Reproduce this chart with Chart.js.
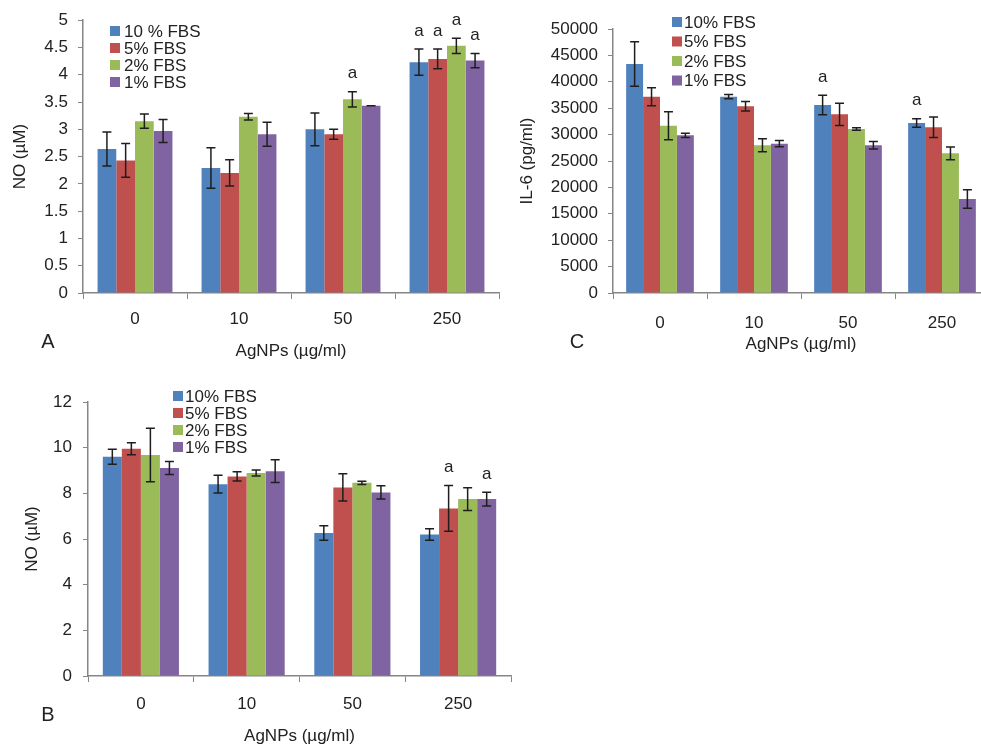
<!DOCTYPE html>
<html>
<head>
<meta charset="utf-8">
<title>AgNPs NO and IL-6</title>
<script src="https://cdn.jsdelivr.net/npm/chart.js@4.4.1/dist/chart.umd.min.js"></script>
<style>
  html, body { margin: 0; padding: 0; background: #fff; overflow: hidden; }
  body { position: relative; width: 981px; height: 744px; }
  canvas { position: absolute; }
</style>
</head>
<body>
<canvas id="chartA" width="510" height="370" style="left:0;top:0"></canvas>
<canvas id="chartC" width="510" height="370" style="left:490px;top:0"></canvas>
<canvas id="chartB" width="520" height="384" style="left:0;top:370px"></canvas>
<script>
// ---- data ----
var categories = ['0', '10', '50', '250'];
var labelsA = ['10 % FBS', '5% FBS', '2% FBS', '1% FBS'];
var labelsBC = ['10% FBS', '5% FBS', '2% FBS', '1% FBS'];
var colors = ['#4f81bd', '#c0504d', '#9bbb59', '#8064a2'];

// panel A: NO (uM)
var noA10 = [2.64, 2.29, 3.00, 4.23], noA10Err = [0.31, 0.37, 0.30, 0.24];
var noA5 = [2.43, 2.20, 2.91, 4.29], noA5Err = [0.31, 0.24, 0.09, 0.18];
var noA2 = [3.15, 3.23, 3.55, 4.53], noA2Err = [0.13, 0.06, 0.14, 0.14];
var noA1 = [2.97, 2.91, 3.43, 4.26], noA1Err = [0.21, 0.22, 0, 0.13];
var sigA10 = ['', '', '', 'a'], sigA5 = ['', '', '', 'a'], sigA2 = ['', '', 'a', 'a'], sigA1 = ['', '', '', 'a'];

// panel C: IL-6 (pg/ml)
var il10 = [43370, 37180, 35600, 32200], il10Err = [4230, 400, 1830, 800];
var il5 = [37180, 35350, 33840, 31380], il5Err = [1700, 900, 2100, 1950];
var il2 = [31690, 27970, 31060, 26450], il2Err = [2650, 1230, 250, 1200];
var il1 = [29860, 28280, 27970, 17800], il1Err = [400, 600, 700, 1750];
var sigC10 = ['', '', 'a', 'a'], sigC5 = ['', '', '', ''], sigC2 = ['', '', '', ''], sigC1 = ['', '', '', ''];

// panel B: NO (uM)
var noB10 = [9.60, 8.40, 6.26, 6.20], noB10Err = [0.33, 0.39, 0.32, 0.25];
var noB5 = [9.95, 8.74, 8.26, 7.34], noB5Err = [0.26, 0.20, 0.60, 1.00];
var noB2 = [9.68, 8.89, 8.46, 7.75], noB2Err = [1.17, 0.13, 0.07, 0.50];
var noB1 = [9.11, 8.97, 8.04, 7.75], noB1Err = [0.28, 0.50, 0.29, 0.30];
var sigB10 = ['', '', '', ''], sigB5 = ['', '', '', 'a'], sigB2 = ['', '', '', ''], sigB1 = ['', '', '', 'a'];

Chart.defaults.font.family = "'Liberation Sans', Arial, sans-serif";
Chart.defaults.color = '#222';

var textColor = '#222';
var axisColor = '#868686';

function makeSets(labels, vals, errs, sigs) {
    return labels.map(function(l, i) {
        return {
            label: l,
            data: vals[i],
            err: errs[i],
            sig: sigs[i],
            backgroundColor: colors[i],
            borderWidth: 0,
            barPercentage: 1,
            categoryPercentage: 0.72
        };
    });
}

// error bars, "a" marks, legend and panel letter
var overlay = {
    id: 'overlay',
    afterDatasetsDraw: function(chart, args, opts) {
        var ctx = chart.ctx;
        var y = chart.scales.y;
        ctx.save();
        ctx.strokeStyle = '#1e1e1e';
        ctx.lineWidth = 1.5;
        ctx.fillStyle = textColor;
        ctx.font = '17px ' + Chart.defaults.font.family;
        ctx.textAlign = 'center';
        ctx.textBaseline = 'middle';
        chart.data.datasets.forEach(function(ds, i) {
            var meta = chart.getDatasetMeta(i);
            meta.data.forEach(function(bar, j) {
                var v = ds.data[j], e = ds.err[j];
                var top = y.getPixelForValue(v + e), bot = y.getPixelForValue(v - e);
                var x = bar.x;
                ctx.beginPath();
                ctx.moveTo(x, top); ctx.lineTo(x, bot);
                ctx.moveTo(x - 4.5, top); ctx.lineTo(x + 4.5, top);
                ctx.moveTo(x - 4.5, bot); ctx.lineTo(x + 4.5, bot);
                ctx.stroke();
                if (ds.sig[j]) {
                    ctx.fillText(ds.sig[j], x, top - 18);
                }
            });
        });

        // legend
        ctx.textAlign = 'left';
        chart.data.datasets.forEach(function(ds, i) {
            var cy = opts.legY + i * opts.legStep;
            ctx.fillStyle = ds.backgroundColor;
            ctx.fillRect(opts.legX, cy - 5, 10, 10);
            ctx.fillStyle = textColor;
            ctx.fillText(ds.label, opts.legX + opts.legGap, cy + 1);
        });

        // panel letter
        ctx.font = '20px ' + Chart.defaults.font.family;
        ctx.textAlign = 'center';
        ctx.fillText(opts.letter, opts.letX, opts.letY);
        ctx.restore();
    }
};

function makeChart(id, sets, p) {
    return new Chart(document.getElementById(id), {
        type: 'bar',
        data: { labels: categories, datasets: sets },
        options: {
            responsive: false,
            animation: false,
            layout: { padding: p.pad },
            plugins: {
                legend: { display: false },
                tooltip: { enabled: false },
                overlay: p.overlay
            },
            scales: {
                x: {
                    grid: { drawOnChartArea: false, tickLength: 6, color: axisColor, offset: true },
                    border: { color: axisColor, width: 1.5 },
                    ticks: { font: { size: 17 }, color: textColor, padding: p.xPad },
                    title: { display: true, text: 'AgNPs (\u00b5g/ml)', font: { size: 17 }, color: textColor, padding: 0 },
                    afterFit: function(scale) { scale.height = p.xH; }
                },
                y: {
                    min: 0,
                    max: p.max,
                    grid: { drawOnChartArea: false, tickLength: 5, color: axisColor },
                    border: { color: axisColor, width: 1.5 },
                    ticks: {
                        stepSize: p.step,
                        font: { size: 17 },
                        color: textColor,
                        padding: p.yPad,
                        callback: function(v) { return String(v); }
                    },
                    title: { display: true, text: p.yTitle, font: { size: 17 }, color: textColor, padding: { top: p.yTitlePad, bottom: 0 } },
                    afterFit: function(scale) { scale.width = p.yW; }
                }
            }
        },
        plugins: [overlay]
    });
}

makeChart('chartA',
    makeSets(labelsA, [noA10, noA5, noA2, noA1], [noA10Err, noA5Err, noA2Err, noA1Err], [sigA10, sigA5, sigA2, sigA1]),
    {
        pad: { left: 0, top: 17, right: 11, bottom: 8 },
        yW: 83, xH: 69, xPad: 10, yPad: 10, yTitlePad: 10,
        max: 5, step: 0.5, yTitle: 'NO (\u00b5M)',
        overlay: { legX: 110, legY: 31, legStep: 17, legGap: 14, letter: 'A', letX: 48, letY: 342 }
    });

makeChart('chartC',
    makeSets(labelsBC, [il10, il5, il2, il1], [il10Err, il5Err, il2Err, il1Err], [sigC10, sigC5, sigC2, sigC1]),
    {
        pad: { left: 20, top: 29, right: 11, bottom: 15 },
        yW: 103, xH: 62, xPad: 14, yPad: 10, yTitlePad: 7,
        max: 50000, step: 5000, yTitle: 'IL-6 (pg/ml)',
        overlay: { legX: 182, legY: 22, legStep: 19.5, legGap: 12, letter: 'C', letX: 87, letY: 342 }
    });

makeChart('chartB',
    makeSets(labelsBC, [noB10, noB5, noB2, noB1], [noB10Err, noB5Err, noB2Err, noB1Err], [sigB10, sigB5, sigB2, sigB1]),
    {
        pad: { left: 15, top: 32, right: 9, bottom: 7 },
        yW: 73, xH: 71, xPad: 12, yPad: 11, yTitlePad: 7,
        max: 12, step: 2, yTitle: 'NO (\u00b5M)',
        overlay: { legX: 173, legY: 26, legStep: 17, legGap: 12, letter: 'B', letX: 48, letY: 345 }
    });
</script>
</body>
</html>
